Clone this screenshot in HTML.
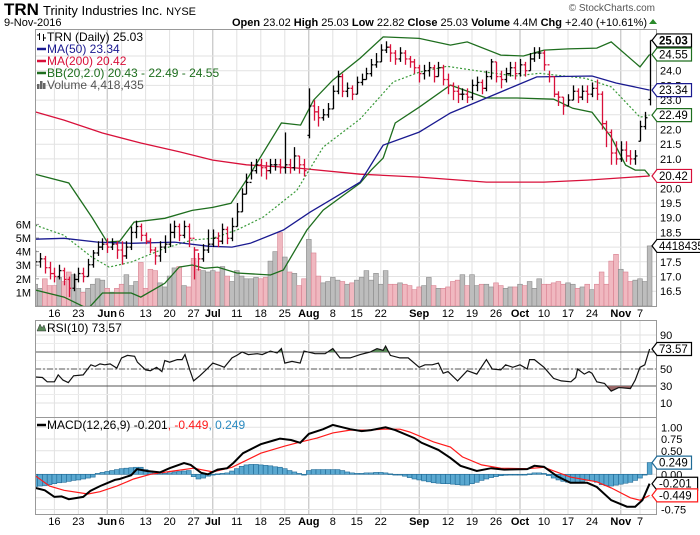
<!DOCTYPE html>
<html><head><meta charset="utf-8">
<style>
html,body{margin:0;padding:0;background:#fff;}
body{width:700px;height:530px;overflow:hidden;font-family:"Liberation Sans",sans-serif;}
svg text{font-family:"Liberation Sans",sans-serif;}
</style></head>
<body>
<svg id="chart" width="700" height="530" viewBox="0 0 700 530" xmlns="http://www.w3.org/2000/svg">
<rect x="0" y="0" width="700" height="530" fill="#fff"/>
<text x="4" y="15" font-size="17" font-weight="bold" fill="#000">TRN</text>
<text x="43" y="15" font-size="13" fill="#000">Trinity Industries Inc. <tspan font-size="11">NYSE</tspan></text>
<text x="4" y="26" font-size="11" fill="#000">9-Nov-2016</text>
<text x="655" y="11" font-size="10" fill="#555" text-anchor="end">© StockCharts.com</text>
<text x="647" y="26" font-size="11" text-anchor="end" fill="#000"><tspan font-weight="bold">Open</tspan> 23.02 <tspan font-weight="bold">High</tspan> 25.03 <tspan font-weight="bold">Low</tspan> 22.82 <tspan font-weight="bold">Close</tspan> 25.03 <tspan font-weight="bold">Volume</tspan> 4.4M <tspan font-weight="bold">Chg</tspan> +2.40 (+10.61%)</text>
<polygon points="649,24 657,24 653,19" fill="#2a8a2a"/>
<g id="g"></g>
</svg>
<script>
// ---- data ----
const dayCount = 129;
const labelIdx = [4,9,15,18,23,28,33,37,42,47,52,57,62,67,72,80,86,91,96,101,106,111,116,122,126];
const labelTxt = ["16","23","Jun","6","13","20","27","Jul","11","18","25","Aug","8","15","22","Sep","12","19","26","Oct","10","17","24","Nov","7"];
const monthIdx = [15,37,57,80,101,122];
const openP = [17.3,17.5,17.6,17.3,17.1,17.0,17.2,16.9,16.6,16.9,17.1,17.0,17.4,17.8,18.0,
18.1,18.0,18.1,17.9,17.7,18.0,18.5,18.7,18.4,18.2,17.9,17.7,18.0,18.1,18.5,18.7,18.4,18.7,18.3,17.9,17.6,17.9,
18.1,18.3,18.2,18.6,18.3,18.7,19.2,19.8,20.2,20.6,20.8,20.7,20.6,20.8,20.8,20.7,20.8,20.7,21.1,20.8,
21.8,22.8,22.6,22.4,22.5,22.7,23.3,23.8,23.3,23.4,23.2,23.6,23.7,23.9,24.2,24.3,24.7,24.8,24.6,24.4,24.6,24.4,24.3,
24.1,23.9,24.0,24.1,23.8,24.1,23.7,23.5,23.3,23.2,23.2,23.1,23.5,23.6,23.4,23.8,24.3,23.8,23.7,23.9,24.1,
23.9,24.2,24.0,24.4,24.6,24.6,24.2,23.8,23.2,23.1,22.8,23.0,23.3,23.1,23.3,23.2,23.4,23.2,22.2,21.9,21.2,
21.0,21.3,21.1,21.0,21.6,22.1,23.02];
const highP = [17.9,17.8,17.7,17.5,17.3,17.4,17.3,17.0,17.1,17.3,17.3,17.6,17.9,18.2,18.3,
18.3,18.3,18.2,18.2,18.2,18.7,18.9,18.8,18.5,18.3,18.0,18.2,18.4,18.8,18.9,18.8,18.9,18.8,18.0,17.8,18.1,18.6,
18.6,18.5,18.8,18.7,19.0,19.5,20.0,20.5,20.9,21.0,21.0,20.9,21.0,21.0,21.0,21.9,21.0,21.4,21.1,21.0,
23.4,23.0,22.8,22.7,22.9,23.5,24.0,23.9,23.6,23.5,23.8,23.9,24.1,24.4,24.6,24.9,25.0,24.9,24.7,24.8,24.7,24.5,24.4,
24.2,24.2,24.3,24.2,24.3,24.2,23.9,23.6,23.5,23.4,23.4,23.7,23.8,23.7,24.0,24.4,24.3,24.0,24.1,24.3,24.3,
24.4,24.3,24.6,24.8,24.8,24.7,24.0,23.8,23.3,23.1,23.2,23.5,23.4,23.5,23.5,23.6,23.7,23.3,22.3,22.0,21.6,
21.6,21.6,21.3,21.3,22.3,22.6,25.03];
const lowP = [17.0,17.3,17.1,16.9,16.8,16.9,16.7,16.3,16.5,16.8,16.8,17.0,17.3,17.7,17.9,
17.8,17.9,17.6,17.4,17.6,17.9,18.3,18.2,18.1,17.8,17.4,17.5,17.8,18.0,18.3,18.2,18.3,18.0,16.9,17.2,17.5,17.8,
18.0,18.0,18.1,18.1,18.2,18.7,19.2,19.8,20.3,20.5,20.4,20.3,20.5,20.6,20.5,20.5,20.5,20.6,20.5,20.4,
21.7,22.3,22.1,22.3,22.4,22.7,23.2,23.1,23.1,23.0,23.2,23.5,23.7,23.8,24.1,24.3,24.6,24.3,24.2,24.3,24.2,24.1,23.9,
23.6,23.7,23.8,23.6,23.8,23.5,23.2,23.0,22.9,23.0,22.9,23.0,23.3,23.2,23.3,23.7,23.6,23.4,23.6,23.8,23.7,
23.8,23.8,24.0,24.3,24.4,24.0,23.6,23.1,22.8,22.5,22.8,23.0,22.9,23.0,22.9,23.1,23.0,22.0,21.4,20.8,20.8,
20.9,20.9,20.8,20.8,21.6,22.0,22.82];
const closeP = [17.5,17.6,17.3,17.1,17.0,17.2,16.9,16.6,16.9,17.1,17.0,17.4,17.8,18.0,18.1,
18.0,18.1,17.9,17.7,18.0,18.5,18.7,18.4,18.2,17.9,17.7,18.0,18.1,18.5,18.7,18.4,18.7,18.3,17.9,17.6,17.9,18.1,
18.3,18.2,18.6,18.3,18.7,19.2,19.8,20.2,20.6,20.8,20.7,20.6,20.8,20.8,20.7,20.8,20.7,21.1,20.8,20.6,
22.8,22.6,22.4,22.5,22.7,23.3,23.8,23.3,23.4,23.2,23.6,23.7,23.9,24.2,24.3,24.7,24.8,24.6,24.4,24.6,24.4,24.3,24.1,
23.9,24.0,24.1,23.8,24.1,23.7,23.5,23.3,23.2,23.2,23.1,23.5,23.6,23.4,23.8,24.3,23.8,23.7,23.9,24.1,23.9,
24.2,24.0,24.4,24.6,24.6,24.2,23.8,23.2,23.1,22.8,23.0,23.3,23.1,23.3,23.2,23.4,23.2,22.2,21.9,21.2,21.0,
21.3,21.1,21.0,21.1,22.1,22.4,25.03];
const volumeM = [1.6,1.3,2.0,1.5,1.5,2.1,1.8,2.5,2.3,1.3,1.0,1.3,1.6,2.0,1.9,
1.3,1.0,1.3,1.6,2.3,1.5,1.8,3.2,1.3,2.7,2.6,1.7,1.4,2.2,2.8,2.9,1.5,1.4,3.5,2.7,2.6,2.5,
2.6,2.5,2.9,2.2,1.8,2.6,2.2,2.0,2.0,2.1,2.0,2.1,3.3,4.0,5.4,3.6,2.5,2.4,1.5,2.0,
4.9,3.9,2.2,1.7,1.8,2.1,1.9,1.8,1.6,1.7,1.9,2.1,2.6,1.9,2.4,1.6,2.6,1.6,1.6,1.7,1.6,1.5,1.2,
1.4,1.5,2.1,1.5,1.3,1.3,1.4,1.8,1.9,2.3,1.5,2.3,1.5,1.6,1.6,1.4,1.7,1.5,1.3,1.4,1.4,
1.6,1.5,1.8,1.3,2.0,1.6,1.6,1.7,1.8,1.6,1.7,1.6,1.3,1.4,1.6,1.2,1.6,2.5,1.6,3.3,3.8,
2.7,2.5,1.8,1.9,2.0,1.8,4.418];
const ma200Idx = [0,6,14,22,30,37,44,54.5,67.7,80,94,106,115,128];
const ma200Val = [22.6,22.32,21.88,21.54,21.24,20.96,20.8,20.69,20.48,20.38,20.21,20.21,20.28,20.42];
const ma50Idx = [0,6,13,20,29,36,41,44.8,51.7,57.3,61.5,67.7,72.5,80,86.5,94,100.4,104.5,116,121,128];
const ma50Val = [18.27,18.3,18.17,18.13,18.17,18.03,18.0,18.13,18.58,19.19,19.6,20.21,21.47,21.91,22.56,23.07,23.51,23.79,23.82,23.58,23.34];
const bbMidIdx = [0,6,11.8,15.4,20,27,32.7,37,42,47.5,54.5,60,67.7,74.6,80,85.8,94,100,105,114.6,120,126,128];
const bbMidVal = [18.75,18.4,17.66,17.32,17.49,17.96,18.24,18.3,18.58,19.02,19.93,21.4,22.36,23.62,23.95,24.15,23.95,23.82,23.91,23.74,23.45,22.42,22.49];
const bbUpIdx = [0,7,11.8,15,17.6,20.6,27,32.7,37,40.8,44.4,51.3,55.3,58,62,67.7,72.5,80,86.5,90,97,101.7,106,111,117,120,126,128];
const bbUpVal = [20.48,20.18,19.02,18.17,18.2,18.85,18.98,19.25,19.35,19.49,20.38,22.22,22.15,23.0,23.68,24.43,25.15,25.1,24.87,24.98,24.53,24.5,24.7,24.74,24.77,24.98,24.13,24.55];
const bbLoIdx = [0,6,11,14,20,22,27,30,32.7,35.3,38,42,49,51.7,56.6,60,67.7,70,72.5,75,80,86.5,94,100.4,108,112,116,120,123,125,127,128];
const bbLoVal = [16.54,16.3,15.9,16.44,16.44,16.3,16.77,17.32,17.39,17.28,17.32,17.12,17.05,17.22,18.58,19.26,20.18,20.62,21.03,22.22,22.76,23.51,23.07,23.07,23.03,22.72,22.59,21.74,20.79,20.62,20.62,20.43];
const rsiIdx = [0,1.5,2.5,4,4.8,5.8,6.9,8,10,11.6,12.5,13.5,14.5,15.6,17,18,19.2,20.7,21.3,23,24,25.3,26.4,27,28,29.6,30.6,31.2,32.2,33,34.3,35.8,37,38.5,39.4,41,42,43.1,44.4,46.3,47.3,49,50.4,51.3,52,53.5,55.2,56,58.3,60.4,62,63.5,65.6,67.7,69.8,71.2,72.5,73,74,76,77.7,80,81.2,82.7,84,85,86,88,90,92,94,95.2,97,98,99.5,101,102.5,103,104,106,108,109.6,111.6,112.6,113,114.4,115.4,116,117,118.6,120,121.5,122,124,125,126,127,128];
const rsiVal = [40.6,40,35,35,43,37,34,42,43,55,53,56,55,56,51,63,66,65,58,49,48,52,47,60,58,61,61,67,49,36,42,50,57,54,52,63,66,70,67,68,67,71,69,74,57,59,57,71,68,68,74,63,63,67,70,74,72,77,66,63,63,52,55,55,57,45,47,36,48,44,61,50,49,55,52,55,50,61,61,52,39,36,35,40,50,44,47,45,35,33,24,28,28,27,37,52,55,73.57];
const macdIdx = [0,2,4,5.5,7,10,11.5,13.5,16.6,17.6,20,21.2,23.3,26,28,31,32.4,34.6,36,38,40,41.3,43.3,47,50,51,53.3,55.2,57,60,62,65.6,68,70,72,73,75,79,80.5,84,86.5,88.6,92,95,97.7,102.5,104,106,108.7,111.5,115,117,120,123.3,125,126.5,128];
const macdVal = [-0.29,-0.34,-0.48,-0.47,-0.53,-0.48,-0.35,-0.25,-0.12,-0.1,-0.02,0.11,0.07,0.04,0.13,0.24,0.2,0.03,0.0,0.1,0.13,0.24,0.45,0.64,0.73,0.76,0.73,0.67,0.86,0.96,1.05,0.96,0.92,0.94,0.98,1.0,0.94,0.77,0.67,0.52,0.35,0.18,0.07,0.13,0.1,0.11,0.18,0.16,-0.04,-0.18,-0.18,-0.27,-0.55,-0.69,-0.69,-0.55,-0.201];
const sigIdx = [0,3,6,11,13.5,17,20.5,24,28.8,33,37,41,47,52,55,58.7,62,65.6,69,72.5,76,78,83,86.5,89,93,97,102.5,106,111.5,117,120,124,126,128];
const sigVal = [-0.03,-0.25,-0.34,-0.42,-0.37,-0.25,-0.1,0.0,0.07,0.13,0.05,0.15,0.45,0.6,0.68,0.77,0.88,0.94,0.94,0.96,0.96,0.9,0.69,0.58,0.37,0.2,0.13,0.12,0.15,-0.06,-0.16,-0.29,-0.5,-0.55,-0.449];
const histVal = [-0.26,-0.25,-0.24,-0.22,-0.2,-0.18,-0.17,-0.15,-0.13,-0.12,-0.1,-0.08,-0.06,
0.02,0.04,0.06,0.08,0.1,0.12,0.13,0.14,0.15,0.15,
0.1,0.07,0.05,0.03,0.02,0.03,0.05,0.06,0.07,0.08,
-0.05,-0.1,-0.08,-0.04,
0.0,0.01,0.02,0.03,
0.07,0.12,0.17,0.2,0.21,0.21,0.2,0.19,0.18,0.16,
0.15,0.12,0.08,0.05,0.02,-0.01,
0.08,0.1,0.1,0.1,0.1,0.1,0.1,0.08,0.05,0.03,
0.02,0.02,0.03,0.03,0.04,0.04,0.03,0.01,0.0,
-0.01,-0.04,-0.07,-0.1,-0.12,-0.14,-0.16,-0.18,-0.19,-0.2,-0.2,-0.21,-0.22,-0.23,-0.23,-0.2,-0.17,-0.13,-0.1,-0.07,
-0.05,-0.03,-0.02,-0.01,0.0,0.0,0.0,0.01,0.03,0.03,0.02,
-0.03,-0.08,-0.12,-0.15,-0.17,-0.18,-0.17,-0.15,-0.13,
-0.14,-0.17,-0.22,-0.24,-0.25,-0.23,-0.21,-0.19,-0.17,-0.13,
-0.08,0.0,0.249];
const priceTicks = [16.5,17.0,17.5,18.0,18.5,19.0,19.5,20.0,20.5,21.0,21.5,22.0,22.5,23.0,23.5,24.0,24.5];
const volTicks = [1,2,3,4,5,6];
const rsiTicks = [10,30,50,70,90];
const macdTicks = [-0.75,-0.5,-0.25,0,0.25,0.5,0.75,1.0];

// ---- layout / axes ----
const L = 35, R = 656;
const P = {top:29, bot:306}, RS = {top:320, bot:417}, MC = {top:417, bot:514};
const xi = i => 649.6 - (dayCount - 1 - i) * 4.8;
const yP = p => 70.7 + (24 - p) * 29.4;
const yV = v => 306 - v * 13.6;
const yR = v => 369 - (v - 50) * 0.85;
const yM = v => 474.3 - v * 47;
const NS = "http://www.w3.org/2000/svg";
const G = document.getElementById('g');
function mk(tag, attrs, parent, txt){
  const e = document.createElementNS(NS, tag);
  for (const k in attrs) e.setAttribute(k, attrs[k]);
  if (txt !== undefined) e.textContent = txt;
  (parent || G).appendChild(e);
  return e;
}
const defs = mk('defs', {});
[['clipP',P],['clipR',RS],['clipM',MC]].forEach(([id,b])=>{
  const c = mk('clipPath',{id:id},defs);
  mk('rect',{x:L,y:b.top,width:R-L,height:b.bot-b.top},c);
});

function panelGrid(b, name){
  const g = mk('g',{});
  
  
  labelIdx.forEach(i=>{
    const isM = monthIdx.indexOf(i) >= 0;
    mk('line',{x1:xi(i),x2:xi(i),y1:b.top,y2:b.bot,stroke:isM?'#b8b8b8':'#e2e2e2','stroke-width':1},g);
  });
  return g;
}
const pg = panelGrid(P,'price');
priceTicks.forEach(t=> mk('line',{x1:L,x2:R,y1:yP(t),y2:yP(t),stroke:'#e2e2e2'},pg));
volTicks.forEach(t=> mk('line',{x1:L,x2:L+4,y1:yV(t),y2:yV(t),stroke:'#999'},pg));
const rg = panelGrid(RS,'rsi');
[20,40,60,80].forEach(t=> mk('line',{x1:L,x2:R,y1:yR(t),y2:yR(t),stroke:'#ececec'},rg));
rsiTicks.forEach(t=> mk('line',{x1:L,x2:R,y1:yR(t),y2:yR(t),stroke:'#e2e2e2'},rg));
const mg = panelGrid(MC,'macd');
macdTicks.forEach(t=> mk('line',{x1:L,x2:R,y1:yM(t),y2:yM(t),stroke:'#e2e2e2'},mg));

// volume bars
const vg = mk('g',{'clip-path':'url(#clipP)'});


volumeM.forEach((v,i)=>{
  const down = i>0 && closeP[i] < closeP[i-1];
  const r = mk('rect',{x:xi(i)-2.4,y:yV(v),width:4.8,height:306-yV(v),fill:down?'#f0b8c0':'#bdbdbd',stroke:down?'#d88090':'#8a8a8a','stroke-width':0.6},vg);
  
  
});

function line(idx, val, yf, clip, color, w, dash, name){
  const pts = idx.map((d,k)=> xi(d).toFixed(1)+','+yf(val[k]).toFixed(1)).join(' ');
  const e = mk('polyline',{points:pts,fill:'none',stroke:color,'stroke-width':w,'clip-path':'url(#'+clip+')'});
  if (dash) e.setAttribute('stroke-dasharray', dash);
  
  
  return e;
}
line(ma200Idx, ma200Val, yP, 'clipP', '#d8103a', 1.3, null, 'ma200-line');
line(bbUpIdx, bbUpVal, yP, 'clipP', '#1e6e1e', 1.3, null, 'bb-upper-line');
line(bbLoIdx, bbLoVal, yP, 'clipP', '#1e6e1e', 1.3, null, 'bb-lower-line');
line(bbMidIdx, bbMidVal, yP, 'clipP', '#3a9a3a', 1.2, '2,2', 'bb-middle-line');
line(ma50Idx, ma50Val, yP, 'clipP', '#1a1a90', 1.3, null, 'ma50-line');

// price bars
const bg = mk('g',{'clip-path':'url(#clipP)'});


closeP.forEach((c,i)=>{
  const down = i>0 && c < closeP[i-1];
  const col = down ? '#d8103a' : '#000';
  const x = Math.round(xi(i)) + 0.5;
  const g = mk('g',{stroke:col,'stroke-width':1.3},bg);
  
  
  mk('line',{x1:x,x2:x,y1:yP(highP[i]),y2:yP(lowP[i])},g);
  mk('line',{x1:x-2,x2:x,y1:yP(openP[i]),y2:yP(openP[i])},g);
  mk('line',{x1:x,x2:x+2,y1:yP(closeP[i]),y2:yP(closeP[i])},g);
});

// RSI
[30,70].forEach(t=> mk('line',{x1:L,x2:R,y1:yR(t),y2:yR(t),stroke:'#555','stroke-width':1}));
mk('line',{x1:L,x2:R,y1:yR(50),y2:yR(50),stroke:'#555','stroke-width':1,'stroke-dasharray':'6,2,2,2'});
const rsiPts = rsiIdx.map((d,k)=> xi(d).toFixed(1)+','+yR(rsiVal[k]).toFixed(1));
const c70 = mk('clipPath',{id:'c70'},defs); mk('rect',{x:L,y:RS.top,width:R-L,height:yR(70)-RS.top},c70);
const c30 = mk('clipPath',{id:'c30'},defs); mk('rect',{x:L,y:yR(30),width:R-L,height:RS.bot-yR(30)},c30);
const ob = mk('polygon',{points: xi(rsiIdx[0])+','+yR(70)+' '+rsiPts.join(' ')+' '+xi(rsiIdx[rsiIdx.length-1])+','+yR(70), fill:'#5a8a5a','clip-path':'url(#c70)'});


const os = mk('polygon',{points: xi(rsiIdx[0])+','+yR(30)+' '+rsiPts.join(' ')+' '+xi(rsiIdx[rsiIdx.length-1])+','+yR(30), fill:'#9a6a6a','clip-path':'url(#c30)'});


line(rsiIdx, rsiVal, yR, 'clipR', '#111', 1.2, null, 'rsi-line');

// MACD histogram
const hg = mk('g',{'clip-path':'url(#clipM)'});


histVal.forEach((v,i)=>{
  const y0 = yM(0), y1 = yM(v);
  const r = mk('rect',{x:xi(i)-2.4,y:Math.min(y0,y1),width:4.8,height:Math.max(0.8,Math.abs(y1-y0)),fill:'#5aa8d0',stroke:'#1f6a96','stroke-width':0.6},hg);
  
  
});
line(sigIdx, sigVal, yM, 'clipM', '#ff1a1a', 1.2, null, 'macd-signal-line');
line(macdIdx, macdVal, yM, 'clipM', '#000', 2, null, 'macd-line');

[P,RS,MC].forEach((b,k)=>{
  const e = mk('rect',{x:L+0.5,y:b.top+0.5,width:R-L,height:b.bot-b.top,fill:'none',stroke:'#999'});
  
  
});

priceTicks.forEach(t=>{
  const e = mk('text',{x:660,y:yP(t)+4,'font-size':11,fill:'#000'}, G, t.toFixed(1));
  
  
});
volTicks.forEach(t=>{
  const e = mk('text',{x:31,y:yV(t)+4,'font-size':11,fill:'#000','text-anchor':'end'}, G, t+'M');
  
  
});
rsiTicks.filter(t=>t!==70).forEach(t=>{
  const e = mk('text',{x:660,y:yR(t)+4,'font-size':11,fill:'#000'}, G, String(t));
  
  
});
[1.0,0.75,0.5,0.0,-0.75].forEach(t=>{
  const e = mk('text',{x:661,y:yM(t)+4,'font-size':11,fill:'#000'}, G, t.toFixed(2));
  
  
});
[[317,'price'],[525,'macd']].forEach(([y,n])=>{
  labelIdx.forEach((i,k)=>{
    const isM = monthIdx.indexOf(i) >= 0;
    const e = mk('text',{x:xi(i),y:y,'font-size':11,fill:'#000','text-anchor':'middle','font-weight':isM?'bold':'normal'}, G, labelTxt[k]);
    
    
  });
});

function tag(y, txt, col, bold, name){
  const w = txt.length*6.1+4;
  const g = mk('g',{});
  
  
  mk('polygon',{points:`652,${y} 657,${y-6.5} ${657+w},${y-6.5} ${657+w},${y+6.5} 657,${y+6.5}`,fill:'#fff',stroke:col,'stroke-width':1.2},g);
  mk('text',{x:659,y:y+4,'font-size':11.5,fill:'#000','font-weight':bold?'bold':'normal'},g,txt);
}
tag(yP(25.03),'25.03','#000',true,'close-price-tag');
tag(yP(24.55),'24.55','#1e6e1e',false,'bb-upper-tag');
tag(yP(23.34),'23.34','#1a1a90',false,'ma50-tag');
tag(yP(22.49),'22.49','#1e6e1e',false,'bb-middle-tag');
tag(yP(20.42),'20.42','#d8103a',false,'ma200-tag');
tag(yV(4.418),'4418435','#000',false,'volume-tag');
tag(yR(73.57),'73.57','#000',false,'rsi-tag');
tag(yM(0.249),'0.249','#1f6a96',false,'histogram-tag');
tag(yM(-0.201),'-0.201','#000',false,'macd-tag');
tag(yM(-0.449),'-0.449','#ff1a1a',false,'signal-tag');

function legendLine(y, parts, name, icon){
  const g = mk('g',{});
  
  
  if (icon) mk('line',{x1:37,x2:46,y1:y-4,y2:y-4,stroke:icon,'stroke-width':2.5},g);
  const t = mk('text',{x:47,y:y,'font-size':12},g);
  parts.forEach(([s,c])=>{ mk('tspan',{fill:c},t,s); });
  return g;
}
legendLine(41,[['TRN (Daily) 25.03','#000']],'legend-price');
const bi = mk('g',{stroke:'#000','stroke-width':1});


mk('line',{x1:39.5,x2:39.5,y1:33,y2:40},bi); mk('line',{x1:37,x2:39.5,y1:35,y2:35},bi);
mk('line',{x1:43.5,x2:43.5,y1:34,y2:41},bi); mk('line',{x1:43.5,x2:46,y1:38,y2:38},bi);
legendLine(53,[['MA(50) 23.34','#1a1a90']],'legend-ma50','#1a1a90');
legendLine(65,[['MA(200) 20.42','#d8103a']],'legend-ma200','#d8103a');
legendLine(77,[['BB(20,2.0) 20.43 - 22.49 - 24.55','#1e6e1e']],'legend-bb','#1e6e1e');
const vl = legendLine(89,[['Volume 4,418,435','#555']],'legend-volume');
[0,3,6].forEach((d,k)=> mk('rect',{x:37+d,y:89-[5,8,6][k],width:2.5,height:[5,8,6][k],fill:'#666'},vl));
const rl = legendLine(332,[['RSI(10) 73.57','#000']],'legend-rsi');
mk('polygon',{points:'37,331 40,324 42,328 44,325 46,331',fill:'#5a8a5a',stroke:'#333','stroke-width':0.5},rl);
legendLine(429,[['MACD(12,26,9) -0.201','#000'],[', -0.449','#ff1a1a'],[', 0.249','#2a8ac0']],'legend-macd','#000');
</script>
</body></html>
